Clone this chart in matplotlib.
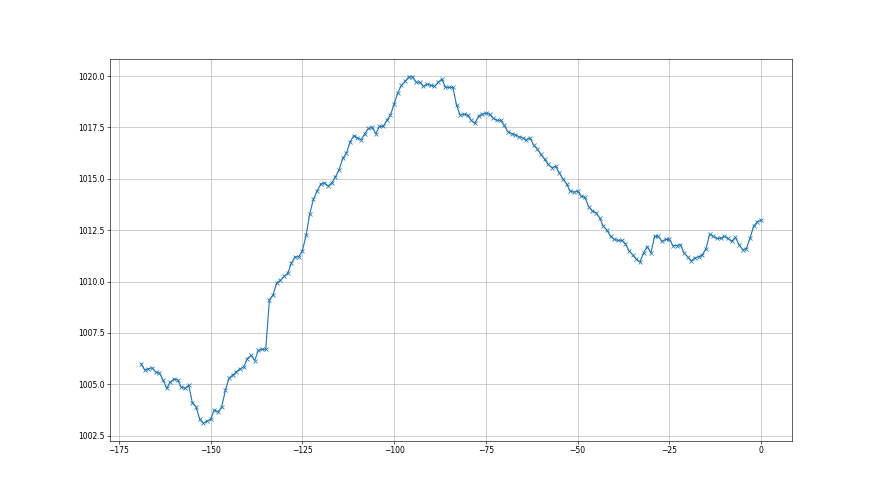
import numpy as np
import matplotlib
matplotlib.use("Agg")
import matplotlib.pyplot as plt

# hours relative to now, one reading per hour
hours = np.arange(-169, 1)
pressure = [
    1006.0, 1005.7, 1005.75, 1005.8, 1005.6, 1005.55, 1005.2, 1004.8, 1005.1, 1005.25,
    1005.2, 1004.85, 1004.8, 1004.95, 1004.1, 1003.9, 1003.3, 1003.1, 1003.2, 1003.3,
    1003.75, 1003.65, 1003.9, 1004.7, 1005.3, 1005.45, 1005.6, 1005.75, 1005.85, 1006.25,
    1006.4, 1006.15, 1006.65, 1006.7, 1006.7, 1009.1, 1009.35, 1009.95, 1010.05, 1010.25,
    1010.4, 1010.9, 1011.2, 1011.2, 1011.5, 1012.25, 1013.3, 1014.0, 1014.4, 1014.75,
    1014.8, 1014.65, 1014.8, 1015.1, 1015.45, 1016.0, 1016.25, 1016.8, 1017.1, 1017.0,
    1016.9, 1017.2, 1017.45, 1017.5, 1017.2, 1017.55, 1017.55, 1017.85, 1018.1, 1018.65,
    1019.2, 1019.55, 1019.75, 1019.97, 1019.97, 1019.7, 1019.7, 1019.5, 1019.6, 1019.55,
    1019.5, 1019.7, 1019.85, 1019.45, 1019.45, 1019.45, 1018.6, 1018.1, 1018.15, 1018.1,
    1017.85, 1017.7, 1018.05, 1018.15, 1018.2, 1018.15, 1017.95, 1017.85, 1017.85, 1017.6,
    1017.3, 1017.2, 1017.15, 1017.05, 1017.0, 1016.9, 1017.0, 1016.65, 1016.45, 1016.2,
    1015.95, 1015.7, 1015.55, 1015.6, 1015.3, 1015.0, 1014.75, 1014.4, 1014.35, 1014.4,
    1014.15, 1014.1, 1013.65, 1013.45, 1013.35, 1013.1, 1012.7, 1012.5, 1012.2, 1012.05,
    1012.0, 1012.0, 1011.85, 1011.5, 1011.3, 1011.1, 1010.95, 1011.4, 1011.7, 1011.4,
    1012.2, 1012.2, 1011.95, 1012.05, 1012.05, 1011.75, 1011.75, 1011.8, 1011.4, 1011.2,
    1011.0, 1011.15, 1011.2, 1011.3, 1011.6, 1012.3, 1012.2, 1012.1, 1012.1, 1012.2,
    1012.1, 1011.95, 1012.15, 1011.8, 1011.55, 1011.6, 1012.1, 1012.7, 1012.9, 1013.0,
]

fig, ax = plt.subplots(figsize=(16, 9), dpi=55)
ax.plot(hours, pressure, "x-", color="#1f77b4")
ax.grid(True)
fig.savefig("out.png", dpi=55)
